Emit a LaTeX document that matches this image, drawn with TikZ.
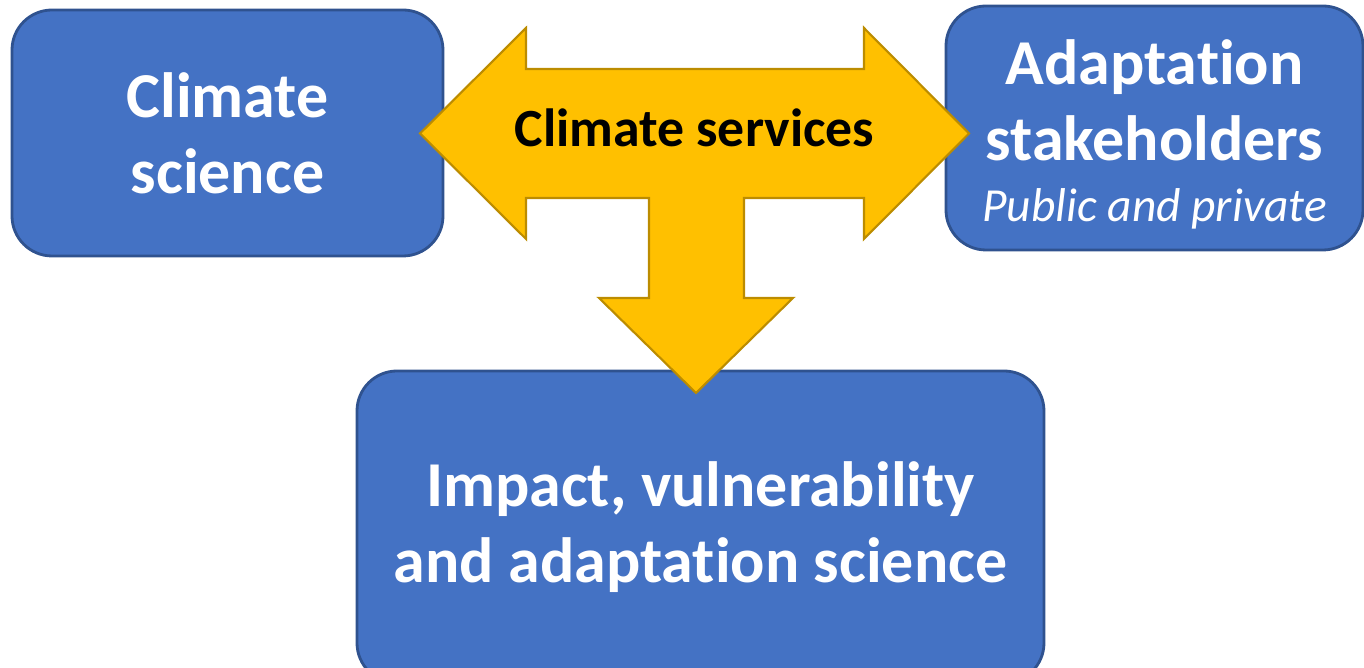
\documentclass[tikz,border=0pt]{standalone}
\usepackage{fontspec}
\setmainfont{Carlito}[Renderer=OpenType,Ligatures=NoCommon]
\usetikzlibrary{positioning}
\definecolor{boxblue}{HTML}{4472C4}
\definecolor{boxline}{HTML}{2F528F}
\definecolor{arrowgold}{HTML}{FFC000}
\definecolor{arrowline}{HTML}{BC8C00}

\begin{document}
\begin{tikzpicture}
    \tikzstyle{box}=[draw=boxline,fill=boxblue,line width=0.8pt,rounded corners=0.4cm,text=white,align=center,font=\bfseries\fontsize{18.2}{21.6}\selectfont];
    \tikzstyle{blockarrow}=[draw=arrowline,fill=arrowgold,line width=0.6pt,line join=miter];

    \useasboundingbox (0,0) rectangle (13.64,-6.68);
    \clip (0,0) rectangle (13.64,-6.68);

    \node[box,minimum width=4.31cm,minimum height=2.46cm] (climsci) at (2.275,-1.33) {Climate\\science};
    \node[box,minimum width=4.17cm,minimum height=2.44cm] (stake) at (11.545,-1.28) {\rule{0pt}{16.4pt}Adaptation\\stakeholders\\[-4pt]{\mdseries\itshape\fontsize{13.5}{16}\selectfont Public and private}};
    \node[box,minimum width=6.87cm,minimum height=3.12cm] (ivasci) at (7.005,-5.27) {Impact, vulnerability\\and adaptation science};

    % three-way arrow between the boxes
    \draw[blockarrow] (4.20,-1.335) -- (5.26,-0.28) -- (5.26,-0.69) -- (8.64,-0.69) -- (8.64,-0.28)
        -- (9.69,-1.335) -- (8.64,-2.39) -- (8.64,-1.98) -- (7.44,-1.98) -- (7.44,-2.98)
        -- (7.93,-2.98) -- (6.96,-3.93) -- (5.99,-2.98) -- (6.49,-2.98) -- (6.49,-1.98)
        -- (5.26,-1.98) -- (5.26,-2.39) -- cycle;
    \node[anchor=base,font=\bfseries\fontsize{15.3}{18}\selectfont] (services) at (6.945,-1.47) {Climate services};
\end{tikzpicture}
\end{document}
